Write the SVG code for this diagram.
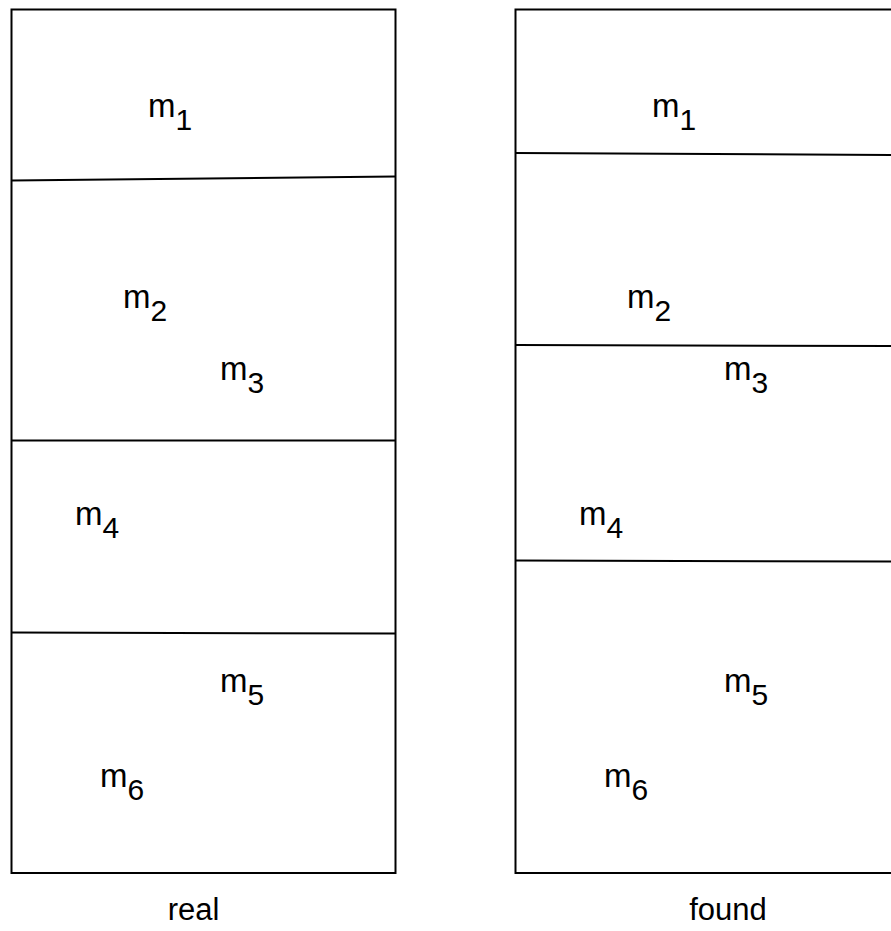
<svg xmlns="http://www.w3.org/2000/svg" width="891" height="931" viewBox="0 0 891 931">
<style>
.box{fill:#fff;stroke:#000;stroke-width:2}
.ln{stroke:#000;stroke-width:2;fill:none}
.t{font-family:"Liberation Sans",Arial,sans-serif;font-size:33px;fill:#000}
.s{font-size:30px}
.cap{font-family:"Liberation Sans",Arial,sans-serif;font-size:31px;fill:#000;text-anchor:middle}
</style>
<rect width="891" height="931" fill="#fff"/>
<g id="real">
<rect class="box" x="11.5" y="9.5" width="384" height="863.5"/>
<text class="cap" x="193.5" y="920">real</text>
</g>
<g id="found">
<rect class="box" x="515.5" y="9.5" width="400" height="863.5"/>
<text class="cap" x="728" y="920">found</text>
</g>
<g id="connectors">
<line class="ln" x1="11.5" y1="180.5" x2="395.5" y2="176.5"/>
<line class="ln" x1="11.5" y1="440.5" x2="395.5" y2="440.5"/>
<line class="ln" x1="11.5" y1="632.5" x2="395.5" y2="633.5"/>
<line class="ln" x1="515.5" y1="153" x2="891" y2="155"/>
<line class="ln" x1="515.5" y1="345" x2="891" y2="346"/>
<line class="ln" x1="515.5" y1="560.5" x2="891" y2="561.5"/>
</g>
<g id="labels-real">
<text class="t" x="148" y="117">m<tspan class="s" dy="13">1</tspan></text>
<text class="t" x="123" y="308">m<tspan class="s" dy="13">2</tspan></text>
<text class="t" x="220" y="380">m<tspan class="s" dy="13">3</tspan></text>
<text class="t" x="75" y="525">m<tspan class="s" dy="13">4</tspan></text>
<text class="t" x="220" y="692">m<tspan class="s" dy="13">5</tspan></text>
<text class="t" x="100" y="787">m<tspan class="s" dy="13">6</tspan></text>
</g>
<g id="labels-found">
<text class="t" x="652" y="117">m<tspan class="s" dy="13">1</tspan></text>
<text class="t" x="627" y="308">m<tspan class="s" dy="13">2</tspan></text>
<text class="t" x="724" y="380">m<tspan class="s" dy="13">3</tspan></text>
<text class="t" x="579" y="525">m<tspan class="s" dy="13">4</tspan></text>
<text class="t" x="724" y="692">m<tspan class="s" dy="13">5</tspan></text>
<text class="t" x="604" y="787">m<tspan class="s" dy="13">6</tspan></text>
</g>
</svg>
